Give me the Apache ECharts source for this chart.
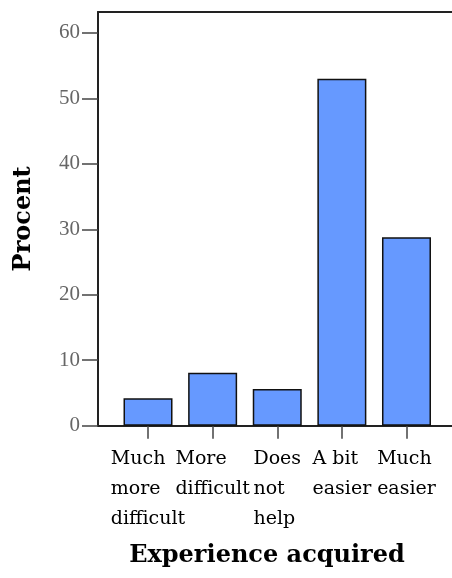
<!DOCTYPE html>
<html><head><meta charset="utf-8">
<script src="https://cdn.jsdelivr.net/npm/echarts@6/dist/echarts.min.js"></script>
<style>html,body{margin:0;padding:0;background:#fff}#c{width:452px;height:578px}</style>
</head><body><div id="c"></div>
<script>
const categories = ['Much\nmore\ndifficult', 'More\ndifficult', 'Does\nnot\nhelp', 'A bit\neasier', 'Much\neasier'];
const values = [4.2, 8.1, 5.6, 53.0, 28.8];
const yTicks = [0, 10, 20, 30, 40, 50, 60];
const yMax = 63.2;
const xTitle = 'Experience acquired';
const yTitle = 'Procent';

const chart = echarts.init(document.getElementById('c'), null, {renderer: 'canvas'});
const lineCol = '#222';
chart.setOption({
  animation: false,
  backgroundColor: '#fff',
  title: {
    text: xTitle, left: 267, top: 544, textAlign: 'center', padding: 0,
    textStyle: {fontFamily: 'DejaVu Serif', fontWeight: 'bold', fontSize: 24, color: '#000'}
  },
  grid: [
    {left: 115.7, right: 13.2, top: 12, bottom: 152.3},
    {left: 98, right: 0, top: 12, bottom: 152.3}
  ],
  xAxis: [
    {
      gridIndex: 0, type: 'category', data: categories,
      axisLine: {show: false},
      axisTick: {show: true, alignWithLabel: true, length: 13, lineStyle: {color: '#444', width: 1.5}},
      axisLabel: {
        interval: 0, margin: 18,
        formatter: v => v.split('\n').map(s => '{a|' + s + '}').join('\n'),
        rich: {a: {fontFamily: 'DejaVu Serif', fontSize: 19, lineHeight: 30, align: 'left', color: '#000'}}
      },
      splitLine: {show: false}
    },
    {
      gridIndex: 1, type: 'value', min: 0, max: 1, position: 'bottom',
      axisLine: {show: true, lineStyle: {color: lineCol, width: 2}},
      axisTick: {show: false}, axisLabel: {show: false}, splitLine: {show: false}
    },
    {
      gridIndex: 1, type: 'value', min: 0, max: 1, position: 'top',
      axisLine: {show: true, lineStyle: {color: lineCol, width: 2}},
      axisTick: {show: false}, axisLabel: {show: false}, splitLine: {show: false}
    }
  ],
  yAxis: [
    {gridIndex: 0, type: 'value', min: 0, max: yMax, show: false, splitLine: {show: false}},
    {
      gridIndex: 1, type: 'value', min: 0, max: yMax, interval: 10,
      axisLine: {show: true, lineStyle: {color: lineCol, width: 2}},
      axisTick: {show: true, length: 16, customValues: yTicks, lineStyle: {color: '#444', width: 1.5}},
      axisLabel: {customValues: yTicks, margin: 18, fontFamily: 'Liberation Serif', fontSize: 21, color: '#666'},
      splitLine: {show: false},
      name: yTitle, nameLocation: 'middle', nameRotate: 90, nameGap: 62,
      nameTextStyle: {fontFamily: 'DejaVu Serif', fontWeight: 'bold', fontSize: 24, color: '#000'}
    }
  ],
  series: [{
    type: 'bar', xAxisIndex: 0, yAxisIndex: 0, data: values, barWidth: 49,
    itemStyle: {color: '#6699ff', borderColor: '#111', borderWidth: 1.5}
  }]
});
</script></body></html>
